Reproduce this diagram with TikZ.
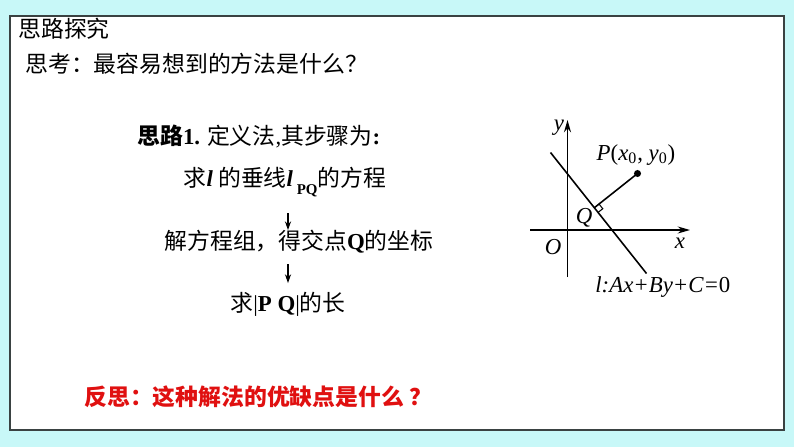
\documentclass[tikz,border=0pt]{standalone}
\usepackage{fontspec}
\setmainfont{Liberation Serif}
\newfontfamily\cjk{Noto Sans CJK SC}
\usepackage{tikz}
\usetikzlibrary{arrows.meta, calc}
\usepackage{xcolor}
\definecolor{bgcyan}{HTML}{C8F8F8}
\definecolor{frameline}{HTML}{3A4242}
\definecolor{warn}{HTML}{E01010}
\newcommand{\latb}[1]{{\rmfamily\bfseries #1}}
\tikzset{
  cnText/.style={font=\cjk\fontsize{13}{15}\selectfont, inner sep=0pt},
  stepText/.style={cnText, anchor=center},
  stepArrow/.style={-{Stealth[length=5pt, width=3.5pt]}, line width=0.6pt},
  axisLine/.style={-{Stealth[length=7pt, width=4pt]}, line width=0.9pt},
  figLabel/.style={font=\fontsize{13}{15}\selectfont\itshape, inner sep=0pt},
}

\begin{document}
\begin{tikzpicture}

  %% Slide background and frame
  \fill[bgcyan] (0,0) rectangle (15.88,8.94);
  \draw[frameline, line width=1pt, fill=white] (0.20,0.34) rectangle (15.68,8.62);

  %% Header
  \node[cnText, anchor=west] (title) at (0.36,8.36) {思路探究};
  \node[cnText, anchor=west] (question) at (0.50,7.66)
    {思考：最容易想到的方法是什么？};

  %% --- LEFT: steps ---
  \node[cnText, anchor=west] (idea) at (2.74,6.22)
    {{\bfseries 思路}\latb{1.} 定义法{\rmfamily,}其步骤为\latb{:}};
  \node[stepText] (stepA) at (5.70,5.30)
    {求\latb{\itshape l} 的垂线\latb{\itshape l}\raisebox{-0.6ex}{\rmfamily\bfseries\fontsize{8.5}{9}\selectfont\ PQ}的方程};
  \node[stepText] (stepB) at (5.98,4.10) {解方程组，得交点\latb{Q}的坐标};
  \node[stepText] (stepC) at (5.76,2.86)
    {求{\rmfamily|}\latb{P Q}{\rmfamily|}的长};

  \coordinate (ax) at (5.76,0);
  \draw[stepArrow, shorten <=0.33cm, shorten >=0.0cm]
    (stepA.south -| ax) -- (stepB.north -| ax);
  \draw[stepArrow, shorten <=0.21cm, shorten >=0.17cm]
    (stepB.south -| ax) -- (stepC.north -| ax);

  %% Reflection
  \node[cnText, anchor=west, warn, font=\cjk\bfseries\fontsize{13}{15}\selectfont]
    (reflect) at (1.68,1.00) {反思：这种解法的优缺点是什么 ？};

  %% --- RIGHT: figure ---
  \coordinate (lTop) at (11.01,5.89);
  \coordinate (lBot) at (12.93,3.47);
  \coordinate (P) at (12.75,5.47);
  \coordinate (Q) at ($(lTop)!(P)!(lBot)$);
  \coordinate (qv) at ($(Q)!0.12cm!(P)$);
  \coordinate (qw) at ($(Q)!0.12cm!(lBot)$);

  \draw[axisLine] (10.60,4.34) -- (13.80,4.34);
  \draw[axisLine] (11.35,3.40) -- (11.35,6.54);
  \draw[line width=0.9pt] (lTop) -- (lBot);
  \draw[line width=0.9pt] (Q) -- (P);
  \draw[line width=0.6pt] (qv) -- ($(qv)+(qw)-(Q)$) -- (qw);
  \fill (P) circle (2pt);

  \node[figLabel] (yLab) at (11.18,6.38) {y};
  \node[figLabel] (xLab) at (13.60,4.08) {x};
  \node[figLabel] (oLab) at (11.06,4.00) {O};
  \node[figLabel] (qLab) at (11.68,4.58) {Q};
  \node[figLabel] (pLab) at (12.72,5.84)
    {P\upshape(\itshape x\upshape\textsubscript{0}, \itshape y\upshape\textsubscript{0})};
  \node[figLabel, anchor=west] (lLab) at (11.90,3.20) {l:Ax+By+C=\upshape 0};

\end{tikzpicture}
\end{document}
